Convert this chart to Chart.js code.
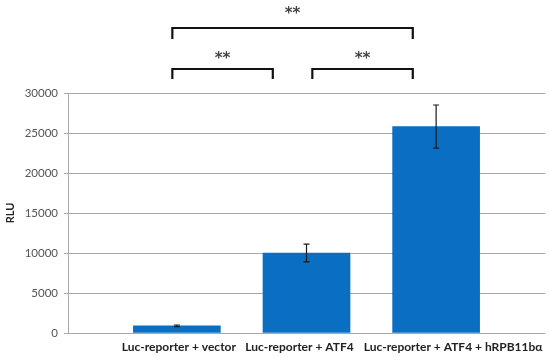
<!DOCTYPE html>
<html><head><meta charset="utf-8">
<script src="https://cdn.jsdelivr.net/npm/chart.js@4"></script>
<style>html,body{margin:0;padding:0;background:#fff;}#wrap{width:550px;height:357px;}</style>
</head><body><div id="wrap"><canvas id="c" width="550" height="357"></canvas></div>
<script>
const categories = ["Luc-reporter + vector", "Luc-reporter + ATF4", "Luc-reporter + ATF4 + hRPB11b\u03b1"];
const rluValues = [900, 10000, 25800];
const rluErrors = [100, 1100, 2700];
const yTicks = [0, 5000, 10000, 15000, 20000, 25000, 30000];
// significance brackets: [x from, x to, bracket y, leg bottom y, label y, label]
const brackets = [
  [-0.035, 1.82, 38125, 36750, 40250, "**"],
  [-0.035, 0.74, 33000, 31750, 34600, "**"],
  [1.045, 1.82, 33000, 31750, 34600, "**"]
];
const labelShift = [2, -7, 17];

const overlay = {
  id: 'overlay',
  afterDatasetsDraw(chart) {
    const ctx = chart.ctx, xs = chart.scales.x, ys = chart.scales.y;
    ctx.save();
    ctx.strokeStyle = '#1a1a1a'; ctx.lineWidth = 1.2;
    rluValues.forEach((v, i) => {
      const x = xs.getPixelForValue(i);
      const t = ys.getPixelForValue(v + rluErrors[i]);
      const b = ys.getPixelForValue(v - rluErrors[i]);
      ctx.beginPath();
      ctx.moveTo(x, t); ctx.lineTo(x, b);
      ctx.moveTo(x - 3, t); ctx.lineTo(x + 3, t);
      ctx.moveTo(x - 3, b); ctx.lineTo(x + 3, b);
      ctx.stroke();
    });
    ctx.strokeStyle = '#111'; ctx.lineWidth = 2.2; ctx.lineJoin = 'miter';
    ctx.fillStyle = '#444';
    ctx.font = 'bold 15px "DejaVu Sans"'; ctx.textAlign = 'center'; ctx.textBaseline = 'middle';
    brackets.forEach(([a, b, yv, yl, ys2, lab]) => {
      const x1 = xs.getPixelForValue(a), x2 = xs.getPixelForValue(b);
      const y = ys.getPixelForValue(yv), y2 = ys.getPixelForValue(yl);
      ctx.beginPath();
      ctx.moveTo(x1, y2); ctx.lineTo(x1, y); ctx.lineTo(x2, y); ctx.lineTo(x2, y2);
      ctx.stroke();
      ctx.fillText(lab, (x1 + x2) / 2, ys.getPixelForValue(ys2) + 3);
    });
    ctx.fillStyle = '#222';
    ctx.font = 'bold 12px Lato';
    ctx.textBaseline = 'middle';
    categories.forEach((c, i) => {
      ctx.fillText(c, xs.getPixelForValue(i) + labelShift[i], ys.bottom + 14);
    });
    ctx.restore();
  }
};

new Chart(document.getElementById('c'), {
  type: 'bar',
  data: {
    datasets: [{
      data: rluValues.map((v, i) => ({ x: i, y: v })),
      backgroundColor: '#0a6fc2',
      borderWidth: 0,
      barThickness: 87
    }]
  },
  options: {
    responsive: false,
    animation: false,
    events: [],
    layout: { padding: { top: 93, bottom: 24, right: 5, left: 0 } },
    plugins: { legend: { display: false }, tooltip: { enabled: false } },
    scales: {
      x: {
        type: 'linear', display: false, offset: false,
        min: -0.84, max: 2.84,
        grid: { display: false }
      },
      y: {
        min: 0, max: 30000,
        afterBuildTicks(s) { s.ticks = yTicks.map(v => ({ value: v })); },
        afterFit(s) { s.width = 68; },
        ticks: { color: '#555', font: { family: 'Lato', size: 11.5 }, padding: 6, callback: v => String(v) },
        grid: { color: '#a8a8a8', lineWidth: 1, tickLength: 4, tickColor: '#a8a8a8' },
        border: { color: '#a8a8a8' },
        title: { display: true, text: 'RLU', color: '#222', font: { family: 'Lato', size: 11, weight: 'bold' }, padding: { top: 4, bottom: 0 } }
      }
    }
  },
  plugins: [overlay]
});
</script></body></html>
